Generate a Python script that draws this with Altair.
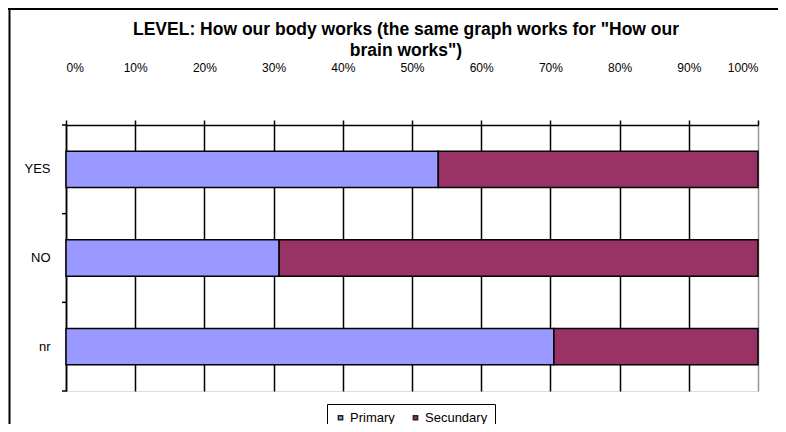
import altair as alt
import pandas as pd

categories = ["YES", "NO", "nr"]
series = ["Primary", "Secundary"]
primary = [53.8, 30.8, 70.5]
secundary = [46.2, 69.2, 29.5]
colors = ["#9999FF", "#993366"]
x_ticks = [0, 0.1, 0.2, 0.3, 0.4, 0.5, 0.6, 0.7, 0.8, 0.9, 1.0]
boundary_cats = ["YES", "NO", "nr"]
title_lines = ["LEVEL: How our body works (the same graph works for \"How our",
               "brain works\")"]

rows = []
for i, c in enumerate(categories):
    rows.append({"cat": c, "series": series[0], "value": primary[i], "order": 0})
    rows.append({"cat": c, "series": series[1], "value": secundary[i], "order": 1})
df = pd.DataFrame(rows)

FONT = "Liberation Sans"

yscale = alt.Scale(domain=categories, paddingInner=0, paddingOuter=0)

bars = alt.Chart(df).mark_bar(
    height=alt.RelativeBandSize(0.41), stroke="black", strokeWidth=1.5
).encode(
    y=alt.Y("cat:N", scale=yscale, sort=categories,
            axis=alt.Axis(title=None, ticks=False, labelPadding=16, labelFontSize=13,
                          labelFont=FONT, labelColor="black", domainColor="black",
                          domainWidth=1.5, grid=False)),
    x=alt.X("value:Q", stack="normalize",
            scale=alt.Scale(domain=[0, 1], nice=False),
            axis=alt.Axis(orient="top", title=None, values=x_ticks, format=".0%",
                          tickSize=5, tickColor="black", tickWidth=1.5,
                          labelPadding=46, labelFontSize=12, labelFont=FONT,
                          labelColor="black", domainColor="black", domainWidth=1.5,
                          grid=True, gridWidth=1.5,
                          gridColor=alt.condition("datum.value >= 1", alt.value("#999999"), alt.value("black")))),
    color=alt.Color("series:N", scale=alt.Scale(domain=series, range=colors),
                    legend=alt.Legend(title=None, orient="none", legendX=261, legendY=279,
                                      direction="horizontal", strokeColor="black",
                                      padding=7, symbolType="square", symbolSize=18,
                                      symbolStrokeColor="#222222", symbolStrokeWidth=1.5,
                                      labelFontSize=13, labelFont=FONT, labelColor="black",
                                      columnPadding=14, labelOffset=3)),
    order=alt.Order("order:Q"),
)

tdf = pd.DataFrame({"cat": boundary_cats})
ticks_top = alt.Chart(tdf).mark_rule(color="black", strokeWidth=1.5).encode(
    y=alt.Y("cat:N", scale=yscale, sort=categories, bandPosition=0),
    x=alt.value(-4), x2=alt.value(0),
)
ticks_bottom = alt.Chart(pd.DataFrame({"cat": [categories[-1]]})).mark_rule(color="black", strokeWidth=1.5).encode(
    y=alt.Y("cat:N", scale=yscale, sort=categories, bandPosition=1),
    x=alt.value(-4), x2=alt.value(0),
)

border_left = alt.Chart(pd.DataFrame({"a": [0]})).mark_rule(color="black", strokeWidth=2).encode(
    x=alt.value(-56.5), y=alt.value(-117), y2=alt.value(320)
)
border_top = alt.Chart(pd.DataFrame({"a": [0]})).mark_rule(color="black", strokeWidth=2).encode(
    x=alt.value(-58), x2=alt.value(720), y=alt.value(-116)
)

title = alt.Chart(pd.DataFrame({"a": [0]})).mark_text(
    text=title_lines, font=FONT, fontSize=17.5, fontWeight="bold", color="black",
    align="center", baseline="alphabetic", lineHeight=21,
).encode(x=alt.value(340), y=alt.value(-90))

chart = alt.layer(bars, ticks_top, ticks_bottom, border_left, border_top, title).properties(
    width=692, height=266,
    autosize=alt.AutoSizeParams(type="none"),
    padding={"left": 58, "top": 117, "right": 20, "bottom": 33},
).configure_view(stroke="#999999", strokeWidth=1.5).configure(background="white")

chart.save("out.html", embed_options={"renderer": "svg", "actions": False})
